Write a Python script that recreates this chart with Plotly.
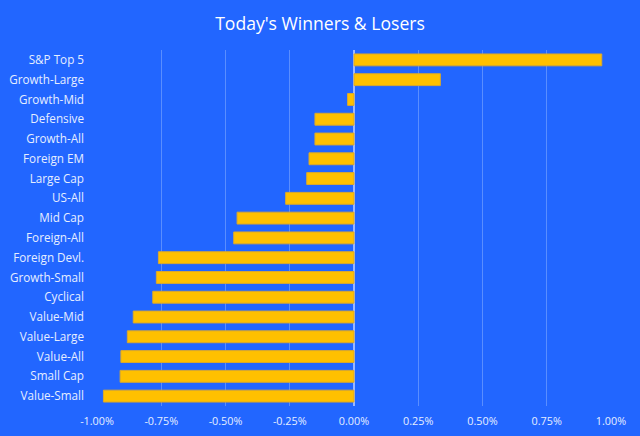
import plotly.graph_objects as go

categories = ["S&P Top 5", "Growth-Large", "Growth-Mid", "Defensive", "Growth-All",
              "Foreign EM", "Large Cap", "US-All", "Mid Cap", "Foreign-All",
              "Foreign Devl.", "Growth-Small", "Cyclical", "Value-Mid", "Value-Large",
              "Value-All", "Small Cap", "Value-Small"]
values = [0.964, 0.336, -0.025, -0.152, -0.152,
          -0.175, -0.184, -0.266, -0.455, -0.468,
          -0.761, -0.769, -0.783, -0.859, -0.882,
          -0.907, -0.910, -0.975]
tick_vals = [-1.0, -0.75, -0.5, -0.25, 0.0, 0.25, 0.5, 0.75, 1.0]
tick_text = ["-1.00%", "-0.75%", "-0.50%", "-0.25%", "0.00%", "0.25%", "0.50%", "0.75%", "1.00%"]

BG = "#2266FF"
TXT = "#E6EEFF"

fig = go.Figure(go.Bar(
    x=values, y=categories, orientation="h",
    marker=dict(color="#FFC000", line=dict(color="#D9A82E", width=1)),
    width=0.6,
))

fig.update_layout(
    width=640, height=436,
    paper_bgcolor=BG, plot_bgcolor=BG,
    margin=dict(l=97, r=29, t=50, b=30, autoexpand=False),
    title=dict(text="Today's Winners & Losers", x=0.5, xanchor="center",
               y=0.945, yanchor="middle",
               font=dict(family="Open Sans", size=17.6, color="#FFFFFF")),
    font=dict(family="Open Sans", size=11.7, color=TXT),
    showlegend=False,
    bargap=0.4,
)
fig.update_xaxes(range=[-1.0, 1.0], tickvals=tick_vals, ticktext=tick_text,
                 showgrid=True, gridcolor="#5A8EFF", gridwidth=1,
                 zeroline=True, zerolinecolor="#9DB8FF", zerolinewidth=2,
                 showline=False, ticks="", ticklabelstandoff=7,
                 automargin=False, tickfont=dict(size=10.8, color=TXT))
fig.update_yaxes(categoryorder="array", categoryarray=categories[::-1],
                 autorange=False, range=[-0.5, len(categories) - 0.5],
                 showgrid=False, zeroline=False, ticks="", automargin=False,
                 ticklabelstandoff=12, tickfont=dict(size=11.7, color=TXT))

fig.write_html("out.html", config={"displayModeBar": False},
               post_script="document.body.style.margin='0';document.body.style.background='" + BG + "';")
